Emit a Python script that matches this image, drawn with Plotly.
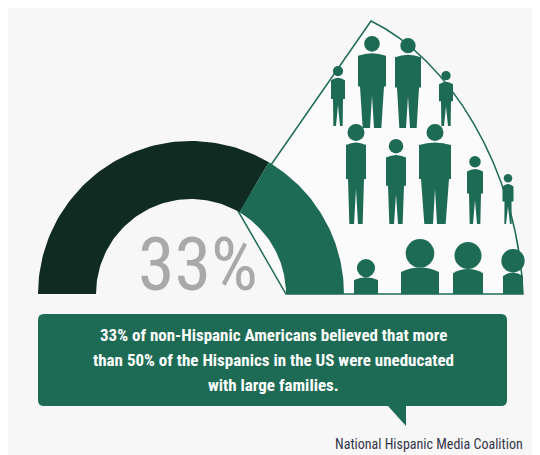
import numpy as np
import plotly.graph_objects as go

percent = 33
labels = ["Other", "Believed"]
caption = ["33% of non-Hispanic Americans believed that more",
           "than 50% of the Hispanics in the US were uneducated",
           "with large families."]
source = "National Hispanic Media Coalition"

BG = "#f7f7f7"; DARK = "#0f2b22"; GREEN = "#1e6b55"
cx, cy, r0, r1 = 183, 286, 95, 153
NARROW = "Liberation Sans Narrow, Roboto Condensed, Arial Narrow, sans-serif"

def ring(a0, a1):
    t = np.linspace(np.radians(a0), np.radians(a1), 80)
    xs = list(cx + r1*np.cos(t)) + list(cx + r0*np.cos(t[::-1]))
    ys = list(cy - r1*np.sin(t)) + list(cy - r0*np.sin(t[::-1]))
    return xs + [xs[0]], ys + [ys[0]]

split = 180 * percent / 100
fig = go.Figure()
shapes = []
shapes.append(dict(type="path", xref="x", yref="y",
    path=f"M {cx+r0*0.5},{cy-r0*0.866} L 363,13 C 440,50 510,160 515,286 L {cx+r0},{cy} Z",
    fillcolor="#fbfbfb", line=dict(color=GREEN, width=1.5), layer="below"))

def person(x, feet, h, w):
    hr = h*0.085
    shapes.append(dict(type="circle", xref="x", yref="y", x0=x-hr, x1=x+hr,
                       y0=feet-h, y1=feet-h+2*hr, fillcolor=GREEN, line_width=0, layer="below"))
    top = feet-h+2*hr+1
    shapes.append(dict(type="path", xref="x", yref="y",
        path=f"M {x-w/2},{top+3} Q {x},{top-2} {x+w/2},{top+3} L {x+w/2},{feet-h*0.45} L {x+w/2-2},{feet-h*0.45} L {x+w/3},{feet} L {x+2},{feet} L {x},{feet-h*0.35} L {x-2},{feet} L {x-w/3},{feet} L {x-w/2+2},{feet-h*0.45} L {x-w/2},{feet-h*0.45} Z",
        fillcolor=GREEN, line_width=0, layer="below"))

def bust(x, base, h, w):
    hr = h*0.26
    shapes.append(dict(type="circle", xref="x", yref="y", x0=x-hr, x1=x+hr,
                       y0=base-h, y1=base-h+2*hr, fillcolor=GREEN, line_width=0, layer="below"))
    shapes.append(dict(type="path", xref="x", yref="y",
        path=f"M {x-w/2},{base} L {x-w/2},{base-h*0.4} Q {x},{base-h*0.56} {x+w/2},{base-h*0.4} L {x+w/2},{base} Z",
        fillcolor=GREEN, line_width=0, layer="below"))

for x, f, h, w in [(330, 118, 60, 14), (364, 120, 92, 28), (400, 120, 90, 26), (438, 118, 55, 14),
                   (348, 216, 100, 20), (388, 216, 85, 20), (427, 216, 100, 32), (467, 216, 68, 16),
                   (500, 216, 50, 11)]:
    person(x, f, h, w)
for x, h, w in [(358, 35, 24), (412, 55, 38), (460, 52, 30), (505, 45, 20)]:
    bust(x, cy, h, w)

xs, ys = ring(split, 180)
fig.add_trace(go.Scatter(x=xs, y=ys, fill="toself", fillcolor=DARK, mode="lines",
                         line=dict(width=0, color=DARK), name=labels[0], hoverinfo="skip"))
xs, ys = ring(0, split)
fig.add_trace(go.Scatter(x=xs, y=ys, fill="toself", fillcolor=GREEN, mode="lines",
                         line=dict(width=0, color=GREEN), name=labels[1], hoverinfo="skip"))

shapes.append(dict(type="path", xref="x", yref="y",
    path="M 36,306 L 493,306 Q 499,306 499,312 L 499,392 Q 499,398 493,398 L 398,398 L 398,418 L 380,398 L 36,398 Q 30,398 30,392 L 30,312 Q 30,306 36,306 Z",
    fillcolor=GREEN, line_width=0))

ann = [dict(x=190, y=256, text=f"{percent}%", showarrow=False,
            font=dict(size=74, color="#a9a9a9", family=NARROW))]
for i, line in enumerate(caption):
    ann.append(dict(x=265, y=327 + i*25, text=f"<b>{line}</b>", showarrow=False,
                    font=dict(size=17, color="white", family=NARROW)))
ann.append(dict(x=517, y=436, text=source, showarrow=False, xanchor="right",
                font=dict(size=14, color="#33364a", family=NARROW)))

fig.update_layout(width=540, height=455, margin=dict(l=0, r=0, t=0, b=0),
                  paper_bgcolor=BG, plot_bgcolor=BG, showlegend=False,
                  xaxis=dict(range=[0, 540], visible=False, fixedrange=True),
                  yaxis=dict(range=[455, 0], visible=False, fixedrange=True),
                  shapes=shapes, annotations=ann)
fig.write_html("out.html")
